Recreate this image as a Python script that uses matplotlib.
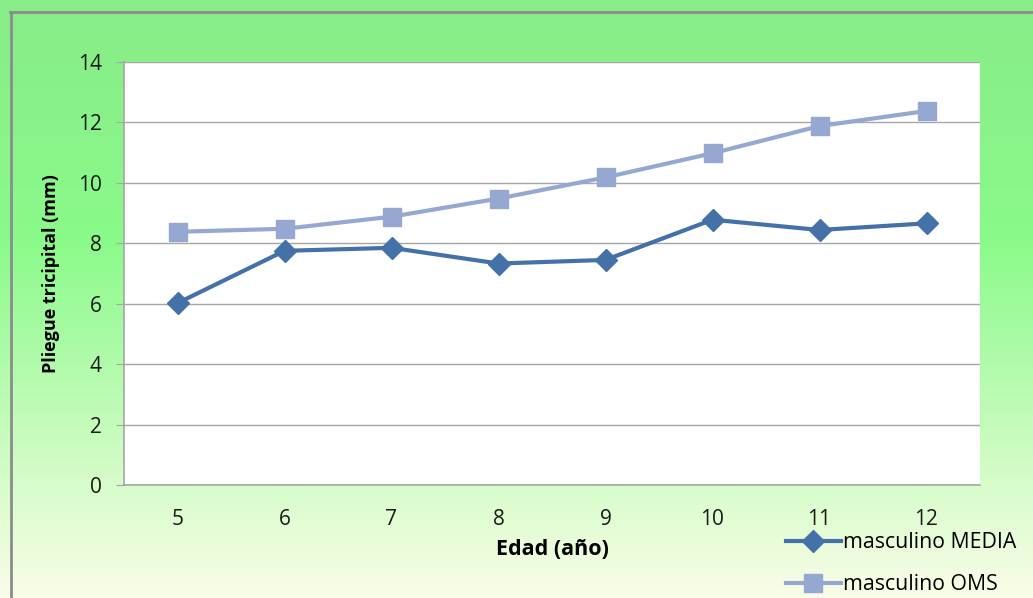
import numpy as np
import matplotlib
matplotlib.use("Agg")
import matplotlib.pyplot as plt
from matplotlib.lines import Line2D

# Datos
edades = [5, 6, 7, 8, 9, 10, 11, 12]
masculino_media = [6.02, 7.75, 7.85, 7.33, 7.45, 8.78, 8.44, 8.66]
masculino_oms = [8.38, 8.48, 8.88, 9.48, 10.18, 10.98, 11.88, 12.38]
y_ticks = [0, 2, 4, 6, 8, 10, 12, 14]

plt.rcParams["font.family"] = ["Open Sans", "DejaVu Sans"]

W, H = 1033, 598
fig = plt.figure(figsize=(W / 100, H / 100), dpi=100)

# fondo degradado verde -> crema
bg = fig.add_axes([0, 0, 1, 1], zorder=-10)
bg.set_axis_off()
yy = np.linspace(0, 1, H)
stops_y = [0.0, 0.40, 1.0]
stops_c = np.array([[136, 236, 136], [138, 250, 138], [250, 253, 232]]) / 255.0
grad = np.stack([np.interp(yy, stops_y, stops_c[:, k]) for k in range(3)], axis=-1)
grad = np.repeat(grad[:, None, :], 2, axis=1)
bg.imshow(grad, aspect="auto", extent=[0, 1, 0, 1], origin="upper")
bg.set_xlim(0, 1)
bg.set_ylim(0, 1)

# marco exterior
fig.add_artist(Line2D([10.5 / W, 10.5 / W], [0, 1 - 12 / H], color="#8c8c8c", lw=2))
fig.add_artist(Line2D([10 / W, 1], [1 - 12 / H, 1 - 12 / H], color="#8c8c8c", lw=2))

ax = fig.add_axes([124 / W, 1 - 485 / H, 856 / W, 423 / H])
ax.set_facecolor("white")

ax.plot(edades, masculino_oms, color="#94a8d2", lw=3, marker="s", ms=13,
        label="masculino OMS", zorder=3)
ax.plot(edades, masculino_media, color="#4472a8", lw=3, marker="D", ms=11,
        label="masculino MEDIA", zorder=4)

ax.set_xlim(4.5, 12.5)
ax.set_ylim(0, 14)
ax.set_yticks(y_ticks)
ax.set_xticks(edades)
ax.yaxis.grid(True, color="#a6a6a6", lw=1)
ax.set_axisbelow(True)
for s in ["top", "right"]:
    ax.spines[s].set_visible(False)
for s in ["left", "bottom"]:
    ax.spines[s].set_color("#a6a6a6")
    ax.spines[s].set_linewidth(1.2)
ax.tick_params(axis="y", length=6, color="#a6a6a6", labelsize=15, pad=10,
               labelcolor="#1a1a1a")
ax.tick_params(axis="x", length=0, labelsize=15, pad=17, labelcolor="#1a1a1a")

ax.set_ylabel("Pliegue tricipital (mm)", fontsize=13, fontweight="bold", labelpad=13)
ax.set_xlabel("Edad (año)", fontsize=15.5, fontweight="bold", labelpad=7)

h_media = Line2D([], [], color="#4472a8", lw=3, marker="D", ms=11)
h_oms = Line2D([], [], color="#94a8d2", lw=3, marker="s", ms=13)
fig.legend([h_media, h_oms], ["masculino MEDIA", "masculino OMS"],
           loc="upper left", bbox_to_anchor=(777 / W, 1 - 524 / H),
           frameon=False, fontsize=15.3, handlelength=2.6, handletextpad=0.1,
           labelspacing=0.98, borderaxespad=0)

fig.savefig("out.png", dpi=100)
